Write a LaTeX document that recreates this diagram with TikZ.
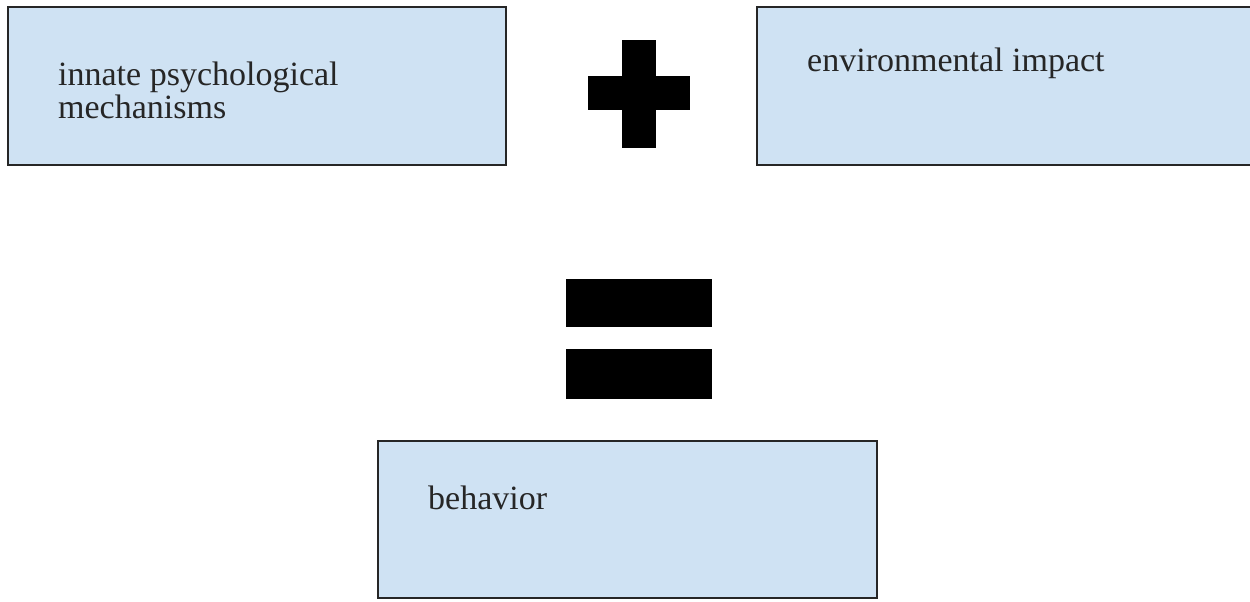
\documentclass[tikz,border=0pt]{standalone}
\usepackage{fontspec}
\setmainfont{Liberation Serif}
\begin{document}
\begin{tikzpicture}[x=1pt,y=-1pt,
  termbox/.style={draw=black!85,line width=2pt,fill=boxblue},
  termtext/.style={anchor=base west,inner sep=0pt,text=black!85,
    font=\fontsize{34}{33}\selectfont,align=left},
  opbar/.style={fill=black,draw=none}]
\definecolor{boxblue}{HTML}{CFE2F3}
\useasboundingbox (0,0) rectangle (1250,602);
\clip (0,0) rectangle (1250,602);
% the three term boxes
\draw[termbox] (8,7) rectangle (506,165);
\draw[termbox] (757,7) rectangle (1262,165);
\draw[termbox] (378,441) rectangle (877,598);
% their labels (base anchor sits on the last line)
\node[termtext] (innate) at (58,118) {innate psychological\\mechanisms};
\node[termtext] (env) at (807,72) {environmental impact};
\node[termtext] (beh) at (428,509) {behavior};
% plus sign
\fill[opbar] (622,40) rectangle (656,148);
\fill[opbar] (588,76) rectangle (690,110);
% equals sign
\fill[opbar] (566,279) rectangle (712,327);
\fill[opbar] (566,349) rectangle (712,399);
\end{tikzpicture}
\end{document}
